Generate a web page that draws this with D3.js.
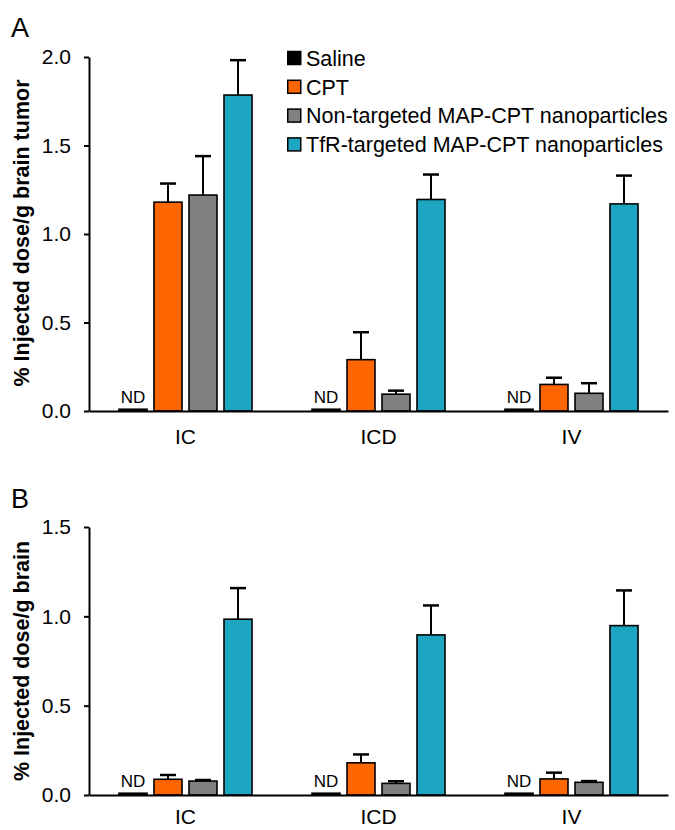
<!DOCTYPE html>
<html>
<head>
<meta charset="utf-8">
<script src="https://cdn.jsdelivr.net/npm/d3@7"></script>
<style>
  body { margin: 0; background: #fff; }
  svg { display: block; font-family: "Liberation Sans", Arial, sans-serif; }
</style>
</head>
<body>
<div class="viz"></div>
<script>
const categories = ['IC', 'ICD', 'IV'];
const seriesNames = ['Saline', 'CPT', 'Non-targeted MAP-CPT nanoparticles', 'TfR-targeted MAP-CPT nanoparticles'];
const seriesColors = ['#000000', '#ff6600', '#808080', '#1ca6c2'];

// panel A: % injected dose / g brain tumor
const tumorSaline = [0.01, 0.01, 0.01];
const tumorCPT = [1.18, 0.29, 0.15];
const tumorNonTargeted = [1.22, 0.095, 0.10];
const tumorTargeted = [1.785, 1.195, 1.17];
const tumorCPTErr = [0.105, 0.155, 0.038];
const tumorNonTargetedErr = [0.22, 0.02, 0.057];
const tumorTargetedErr = [0.197, 0.141, 0.16];
const tumorTicks = [0, 0.5, 1.0, 1.5, 2.0];

// panel B: % injected dose / g brain
const brainSaline = [0.01, 0.01, 0.01];
const brainCPT = [0.088, 0.18, 0.09];
const brainNonTargeted = [0.078, 0.065, 0.071];
const brainTargeted = [0.984, 0.896, 0.948];
const brainCPTErr = [0.024, 0.047, 0.035];
const brainNonTargetedErr = [0.006, 0.012, 0.007];
const brainTargetedErr = [0.174, 0.165, 0.197];
const brainTicks = [0, 0.5, 1.0, 1.5];

const svg = d3.select('.viz').append('svg')
    .attr('width', 675)
    .attr('height', 830);

const x0 = d3.scaleBand().domain(categories).range([89, 668]);
const x1 = d3.scaleBand().domain(seriesNames).range([-66.5, 66.5]).paddingInner(0.2);
const color = d3.scaleOrdinal().domain(seriesNames).range(seriesColors);

function panel(opts) {
    const g = svg.append('g');
    const y = d3.scaleLinear().domain([0, opts.max]).range([opts.bottom, opts.top]);

    const rows = [];
    categories.forEach((c, i) => {
        opts.means.forEach((m, s) => {
            rows.push({ cat: c, name: seriesNames[s], v: m[i], e: opts.errs[s] ? opts.errs[s][i] : 0 });
        });
    });

    // bars
    g.selectAll('rect.bar').data(rows).enter().append('rect')
        .attr('class', 'bar')
        .attr('x', d => x0(d.cat) + x0.bandwidth() / 2 + x1(d.name))
        .attr('y', d => y(d.v))
        .attr('width', x1.bandwidth())
        .attr('height', d => y(0) - y(d.v))
        .attr('fill', d => color(d.name))
        .attr('stroke', '#000')
        .attr('stroke-width', 1.6);

    // error bars (upper only)
    const eb = rows.filter(d => d.e > 0);
    const cx = d => x0(d.cat) + x0.bandwidth() / 2 + x1(d.name) + x1.bandwidth() / 2;
    g.selectAll('line.err').data(eb).enter().append('line')
        .attr('x1', cx).attr('x2', cx)
        .attr('y1', d => y(d.v)).attr('y2', d => y(d.v + d.e))
        .attr('stroke', '#000').attr('stroke-width', 2);
    g.selectAll('line.cap').data(eb).enter().append('line')
        .attr('x1', d => cx(d) - 8).attr('x2', d => cx(d) + 8)
        .attr('y1', d => y(d.v + d.e)).attr('y2', d => y(d.v + d.e))
        .attr('stroke', '#000').attr('stroke-width', 2.5);

    // ND labels over saline
    g.selectAll('text.nd').data(rows.filter(d => d.name === 'Saline')).enter().append('text')
        .attr('x', cx)
        .attr('y', d => y(d.v) - 6)
        .attr('text-anchor', 'middle')
        .attr('font-size', 17)
        .text('ND');

    // axes
    const yAxis = g.append('g')
        .attr('transform', 'translate(89,0)')
        .call(d3.axisLeft(y).tickValues(opts.ticks).tickFormat(d3.format('.1f')).tickSize(5).tickSizeOuter(0).tickPadding(13));
    yAxis.select('.domain').attr('stroke-width', 2);
    yAxis.selectAll('.tick line').attr('stroke-width', 2);
    yAxis.selectAll('text').attr('font-size', 21).attr('font-family', null).attr('fill', '#000');

    const xAxis = g.append('g')
        .attr('transform', `translate(0,${opts.bottom})`)
        .call(d3.axisBottom(x0).tickSize(0).tickSizeOuter(0).tickPadding(opts.labelPad));
    xAxis.select('.domain').attr('stroke-width', 2);
    xAxis.selectAll('text').attr('font-size', 21).attr('font-family', null).attr('fill', '#000');

    // y title
    g.append('text')
        .attr('transform', `translate(29,${opts.titleY}) rotate(-90)`)
        .attr('text-anchor', 'middle')
        .attr('font-size', 21.5)
        .attr('font-weight', 'bold')
        .text(opts.title);

    // panel letter
    g.append('text')
        .attr('x', 11).attr('y', opts.letterY)
        .attr('font-size', 27)
        .text(opts.letter);
}

panel({
    letter: 'A', letterY: 37,
    top: 57, bottom: 411, max: 2.0, ticks: tumorTicks, labelPad: 18,
    means: [tumorSaline, tumorCPT, tumorNonTargeted, tumorTargeted],
    errs: [null, tumorCPTErr, tumorNonTargetedErr, tumorTargetedErr],
    title: '% Injected dose/g brain tumor', titleY: 233
});

panel({
    letter: 'B', letterY: 508,
    top: 527, bottom: 795, max: 1.5, ticks: brainTicks, labelPad: 14,
    means: [brainSaline, brainCPT, brainNonTargeted, brainTargeted],
    errs: [null, brainCPTErr, brainNonTargetedErr, brainTargetedErr],
    title: '% Injected dose/g brain', titleY: 661
});

// legend
const legend = svg.append('g').attr('transform', 'translate(287,58)');
const item = legend.selectAll('g').data(seriesNames).enter().append('g')
    .attr('transform', (d, i) => `translate(0,${i * 28.8})`);
item.append('rect')
    .attr('x', 0.75).attr('y', -6.5)
    .attr('width', 13).attr('height', 13)
    .attr('fill', d => color(d))
    .attr('stroke', '#000').attr('stroke-width', 1.5);
item.append('text')
    .attr('x', 19).attr('y', 0).attr('dy', '0.36em')
    .attr('font-size', 21.5)
    .text(d => d);
</script>
</body>
</html>
